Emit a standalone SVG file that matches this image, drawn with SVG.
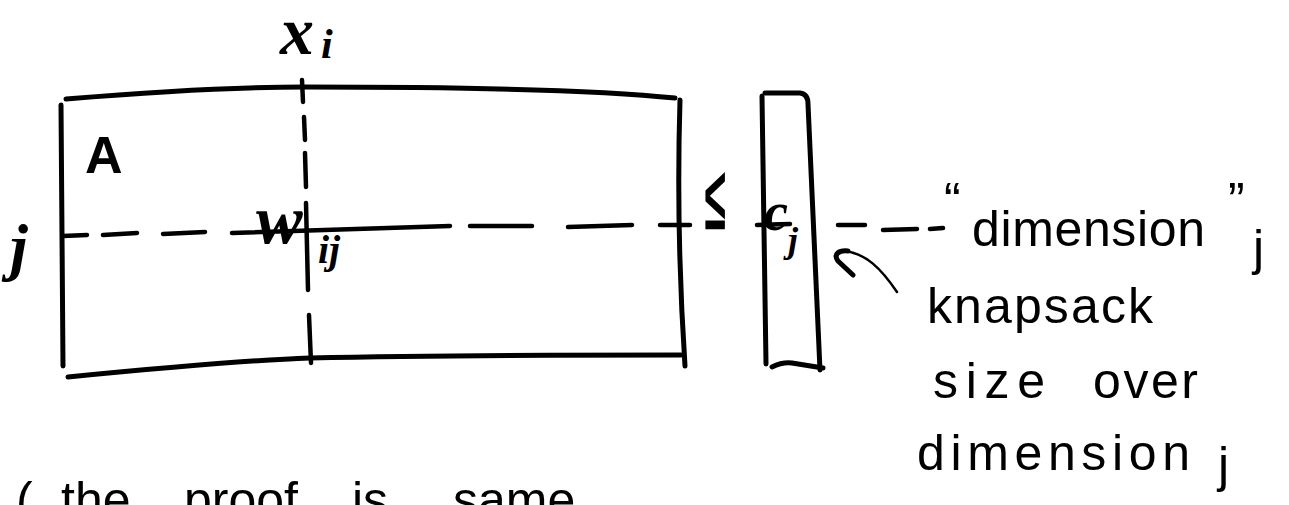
<svg xmlns="http://www.w3.org/2000/svg" width="1289" height="505" viewBox="0 0 1289 505">
<style>
  .ink { fill: none; stroke: #000; stroke-linecap: round; stroke-linejoin: round; }
  .edge { stroke-width: 5; }
  .dash { stroke-width: 4.5; }
  .thin { stroke-width: 2.5; }
  .math { font-family: "Liberation Serif", "DejaVu Serif", serif; font-style: italic; font-weight: bold; fill: #000; }
  .lab { font-family: "Liberation Sans", "DejaVu Sans", sans-serif; font-weight: bold; fill: #000; }
  .sym { font-family: "Liberation Sans", "DejaVu Sans", sans-serif; font-weight: normal; fill: #000; stroke: #000; stroke-width: 2.5; }
  .note { font-family: "Liberation Sans", "DejaVu Sans", sans-serif; font-size: 50px; fill: #000; }
</style>
<rect width="1289" height="505" fill="#fff"/>

<g id="matrix-A">
  <path class="ink edge" d="M66,99 C150,92 240,87 305,87 C450,87 600,90 675,98"/>
  <path class="ink edge" d="M61,105 L63,366"/>
  <path class="ink edge" d="M68,377 C180,366 250,360 310,358 C450,355 600,355 681,355"/>
  <path class="ink edge" d="M680,100 Q676,230 685,366"/>
  <text class="lab" x="85" y="173" font-size="52">A</text>
</g>

<g id="column-c">
  <path class="ink edge" d="M762,96 L766,364"/>
  <path class="ink edge" d="M765,93 L800,93 Q808,94 808,104 L820,370"/>
  <path class="ink edge" d="M772,367 Q782,362 792,363 L823,368"/>
  <text class="math" x="764" y="230" font-size="54">c</text>
  <text class="math" x="788" y="252" font-size="36">j</text>
</g>

<g id="label-xi">
  <text class="math" x="280" y="54" font-size="68">x</text>
  <text class="math" x="321" y="58" font-size="42">i</text>
</g>

<g id="label-j">
  <text class="math" x="10" y="268" font-size="64">j</text>
</g>

<g id="label-wij">
  <text class="math" x="256" y="243" font-size="70">w</text>
  <text class="math" x="318" y="263" font-size="40">ij</text>
</g>

<g id="label-leq">
  <text class="sym" font-size="90" text-anchor="middle" transform="translate(715,228) scale(0.42,1)">≤</text>
</g>

<g id="annotation">
  <text class="note" x="944" y="218">“</text>
  <text class="note" x="972" y="246" textLength="233" lengthAdjust="spacing">dimension</text>
  <text class="note" x="1228" y="218">”</text>
  <text class="note" x="1253" y="265" font-size="56">j</text>
  <text class="note" x="927" y="323" textLength="226" lengthAdjust="spacing">knapsack</text>
  <text class="note" x="933" y="398" textLength="112" lengthAdjust="spacing">size</text>
  <text class="note" x="1093" y="398" textLength="105" lengthAdjust="spacing">over</text>
  <text class="note" x="917" y="470" textLength="273" lengthAdjust="spacing">dimension</text>
  <text class="note" x="1218" y="482" font-size="60">j</text>
</g>

<g id="footnote">
  <text class="note" font-size="54" y="517"><tspan x="16">(</tspan><tspan x="61">the</tspan><tspan x="184">proof</tspan><tspan x="352">is</tspan><tspan x="453">same</tspan></text>
</g>

<g id="connectors">
  <path class="ink dash" d="M302,80 L303,102 M304,117 L305,140 M305,153 L306,187 M306,203 L308,290 M309,315 L311,363"/>
  <path class="ink dash" d="M63,236 L87,235 M103,235 L137,233 M163,234 L205,232 M232,233 L450,226 M470,226 L532,226 M568,227 L632,225 M660,225 L690,225 M757,225 L790,224 M838,225 L865,225 M883,230 L917,229 M930,229 L943,228"/>
  <path class="ink thin" d="M897,292 C882,270 866,252 842,251"/>
  <path class="ink edge" d="M848,251 C839,250 833,254 838,261 L853,275"/>
</g>
</svg>
